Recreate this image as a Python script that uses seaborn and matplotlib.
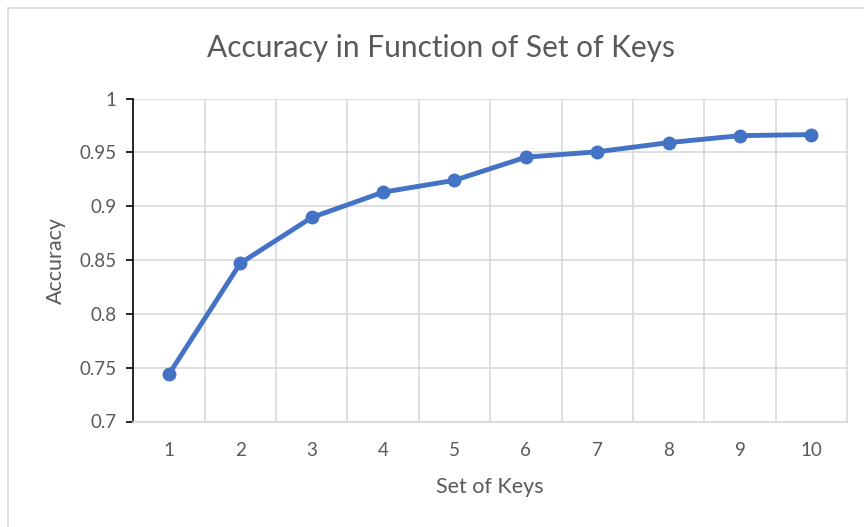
import matplotlib
matplotlib.use("Agg")
import matplotlib.pyplot as plt
import seaborn as sns
import pandas as pd
from matplotlib.patches import Rectangle
from matplotlib.ticker import FixedLocator

sets = [1, 2, 3, 4, 5, 6, 7, 8, 9, 10]
accuracy = [0.744, 0.847, 0.8895, 0.913, 0.924, 0.9455, 0.9505, 0.959, 0.9655, 0.9665]
yticks = [0.7, 0.75, 0.8, 0.85, 0.9, 0.95, 1.0]
ytick_labels = ["0.7", "0.75", "0.8", "0.85", "0.9", "0.95", "1"]

sns.set_style("white")
plt.rcParams['font.family'] = ['Lato', 'DejaVu Sans']

txt = "#595959"
grid = "#d9d9d9"
blue = "#4472C4"

fig = plt.figure(figsize=(8.64, 5.27), dpi=100)
ax = fig.add_axes([133.3/864, 1-421.5/527, (847-133.3)/864, (421.5-98.5)/527])

df = pd.DataFrame({"Set of Keys": sets, "Accuracy": accuracy})
sns.lineplot(data=df, x="Set of Keys", y="Accuracy", ax=ax, color=blue,
             linewidth=3.5, marker="o", markersize=10, markeredgewidth=0,
             zorder=3)

ax.set_xlim(0.5, 10.5)
ax.set_ylim(0.7, 1.0)
ax.set_xticks(sets)
ax.set_xticklabels([str(s) for s in sets])
ax.xaxis.set_minor_locator(FixedLocator([s + 0.5 for s in sets[:-1]]))
ax.set_yticks(yticks)
ax.set_yticklabels(ytick_labels)

ax.grid(True, axis='y', which='major', color=grid, linewidth=1.2, zorder=0)
ax.grid(True, axis='x', which='minor', color=grid, linewidth=1.2, zorder=0)
ax.grid(False, axis='x', which='major')
ax.set_axisbelow(True)

ax.spines["top"].set_visible(False)
ax.spines["right"].set_color(grid)
ax.spines["right"].set_linewidth(1.2)
ax.spines["bottom"].set_color(grid)
ax.spines["bottom"].set_linewidth(1.2)
ax.spines["left"].set_color("black")
ax.spines["left"].set_linewidth(1.2)

ax.tick_params(axis='y', which='major', direction='out', length=5, width=1.2,
               color='black', labelsize=13.5, labelcolor=txt, pad=7, left=True)
ax.tick_params(axis='x', which='both', length=0, labelsize=13.5, labelcolor=txt, pad=15)

ax.set_xlabel("Set of Keys", fontsize=15.5, color=txt, labelpad=13)
ax.set_ylabel("Accuracy", fontsize=15.5, color=txt, labelpad=10)

fig.text(441/864, 1-48/527, "Accuracy in Function of Set of Keys",
         fontsize=21.5, color=txt, ha="center", va="center")

fig.patches.append(Rectangle((8/864, -0.1), 1.2, 1-8/527+0.1, transform=fig.transFigure,
                             fill=False, edgecolor=grid, linewidth=1.2))

fig.savefig("out.png", dpi=100)
